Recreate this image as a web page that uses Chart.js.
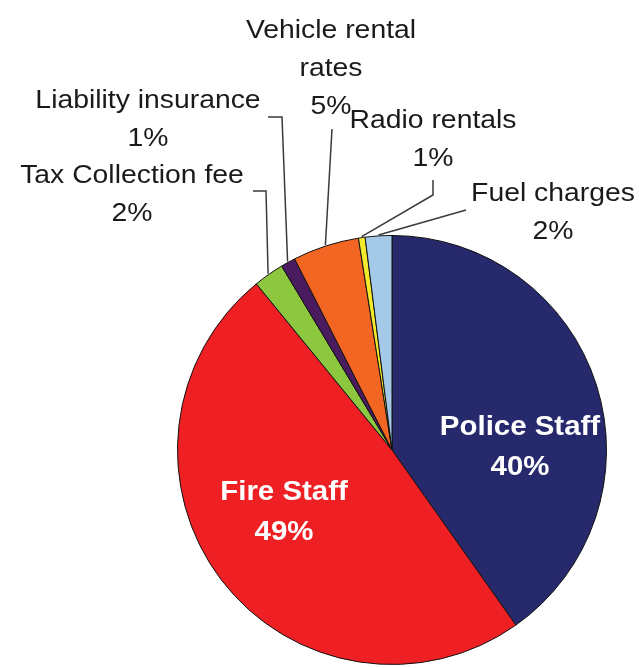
<!DOCTYPE html>
<html>
<head>
<meta charset="utf-8">
<script src="https://cdn.jsdelivr.net/npm/chart.js@4/dist/chart.umd.min.js"></script>
<style>
  html, body { margin: 0; padding: 0; background: #fff; }
  #wrap { width: 639px; height: 668px; }
</style>
</head>
<body>
<div id="wrap"><canvas id="budgetChart" width="639" height="668"></canvas></div>
<script>
// Dados do gráfico
const categories = ['Police Staff', 'Fire Staff', 'Tax Collection fee', 'Liability insurance',
                    'Vehicle rental rates', 'Radio rentals', 'Fuel charges'];
const shares = [40.2, 48.9, 2.3, 1.1, 5.0, 0.5, 2.0];
const sliceColors = ['#27296d', '#ee2024', '#8dc63f', '#4b1b5f', '#f26522', '#f3ea2c', '#a4c9e9'];

// Posição dos rótulos (só layout)
const labelLayout = [
    { lines: ['Police Staff'], x: 520, y: 435, inside: true },
    { lines: ['Fire Staff'], x: 284, y: 500, inside: true },
    { lines: ['Tax Collection fee'], x: 132, y: 183, path: [[253, 191], [266, 191]] },
    { lines: ['Liability insurance'], x: 148, y: 108, path: [[268, 117], [282, 117]] },
    { lines: ['Vehicle rental', 'rates'], x: 331, y: 38, path: [[332, 129]] },
    { lines: ['Radio rentals'], x: 433, y: 128, path: [[433, 180], [433, 195]] },
    { lines: ['Fuel charges'], x: 553, y: 201, path: [[466, 210]] }
];

const total = shares.reduce((a, b) => a + b, 0);

const pieLabels = {
    id: 'pieLabels',
    afterDraw(chart) {
        const ctx = chart.ctx;
        const arcs = chart.getDatasetMeta(0).data;
        ctx.save();
        labelLayout.forEach((lab, i) => {
            const pct = Math.round(shares[i] / total * 100) + '%';
            const lines = lab.lines.concat([pct]);

            if (lab.path) {
                const arc = arcs[i];
                const mid = (arc.startAngle + arc.endAngle) / 2;
                const r = arc.outerRadius + 1;
                ctx.strokeStyle = '#3a3a3a';
                ctx.lineWidth = 1.5;
                ctx.beginPath();
                ctx.moveTo(lab.path[0][0], lab.path[0][1]);
                lab.path.slice(1).forEach(p => ctx.lineTo(p[0], p[1]));
                ctx.lineTo(arc.x + Math.cos(mid) * r, arc.y + Math.sin(mid) * r);
                ctx.stroke();
            }

            ctx.fillStyle = lab.inside ? '#ffffff' : '#1a1a1a';
            ctx.font = lab.inside ? 'bold 27px "Liberation Sans", Arial, sans-serif'
                                  : '26px "Liberation Sans", Arial, sans-serif';
            ctx.textAlign = 'center';
            ctx.textBaseline = 'alphabetic';
            const step = lab.inside ? 40 : 38;
            lines.forEach((t, k) => {
                ctx.save();
                ctx.translate(lab.x, lab.y + k * step);
                ctx.scale(1.09, 1);
                ctx.fillText(t, 0, 0);
                ctx.restore();
            });
        });
        ctx.restore();
    }
};

const ctx = document.getElementById('budgetChart').getContext('2d');
new Chart(ctx, {
    type: 'pie',
    data: {
        labels: categories,
        datasets: [{
            data: shares,
            backgroundColor: sliceColors,
            borderColor: '#111111',
            borderWidth: 1
        }]
    },
    options: {
        responsive: false,
        animation: false,
        layout: { padding: { left: 177, right: 32, top: 234, bottom: 2 } },
        plugins: {
            legend: { display: false },
            tooltip: { enabled: false }
        }
    },
    plugins: [pieLabels]
});
</script>
</body>
</html>
